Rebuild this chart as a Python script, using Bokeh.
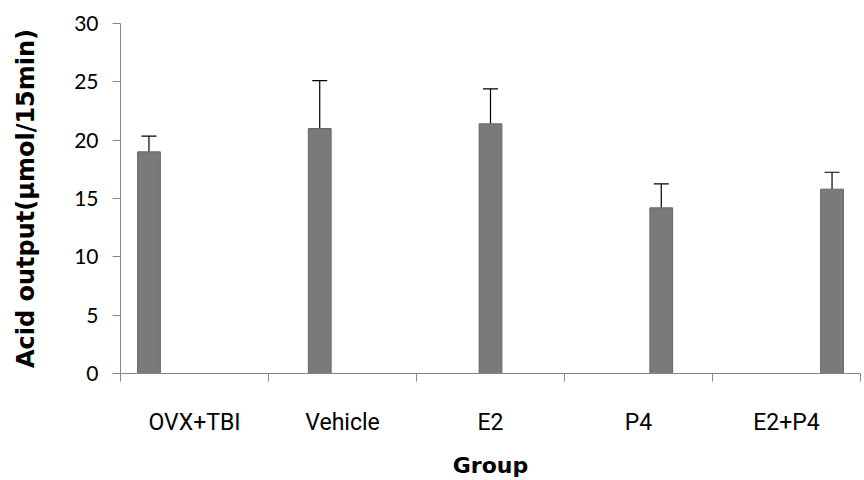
from bokeh.plotting import figure
from bokeh.models import (ColumnDataSource, Range1d, LinearAxis, FixedTicker, Whisker, TeeHead)
from bokeh.embed import file_html
from bokeh.resources import INLINE

groups = ["OVX+TBI", "Vehicle", "E2", "P4", "E2+P4"]
means = [19.0, 21.0, 21.4, 14.2, 15.8]
errors = [1.35, 4.1, 3.0, 2.05, 1.45]
y_ticks = [0, 5, 10, 15, 20, 25, 30]

AXIS_GRAY = "#868686"
BAR_FILL = "#7a7a7a"
BAR_LINE = "#666666"

n = len(groups)
slot = 1.0 / (n + 1.5)          # clustered layout: 5 series slots + gap per category
centers = [i + 0.5 for i in range(n)]
bounds = list(range(n + 1))
xs = [centers[i] + (i - (n - 1) / 2) * slot for i in range(n)]
uppers = [m + e for m, e in zip(means, errors)]

p = figure(x_range=Range1d(0, n), y_range=Range1d(0, 30),
           frame_width=740, frame_height=350,
           min_border_left=120, min_border_right=4, min_border_top=23, min_border_bottom=107,
           output_backend="svg", toolbar_location=None, x_axis_location=None,
           background_fill_color="white", border_fill_color="white")
p.outline_line_color = None
p.xgrid.grid_line_color = None
p.ygrid.grid_line_color = None

# y axis
ya = p.yaxis[0]
ya.ticker = FixedTicker(ticks=y_ticks)
ya.axis_line_color = AXIS_GRAY
ya.major_tick_line_color = AXIS_GRAY
ya.major_tick_out = 8
ya.major_tick_in = 0
ya.minor_tick_line_color = None
ya.major_label_text_font = "Lato"
ya.major_label_text_font_size = "21px"
ya.major_label_text_color = "black"
ya.major_label_standoff = 14
ya.axis_label = "Acid output(µmol/15min)"
ya.axis_label_text_font = "DejaVu Sans"
ya.axis_label_text_font_style = "bold"
ya.axis_label_text_font_size = "24px"
ya.axis_label_text_color = "black"
ya.axis_label_standoff = 31

# x axis: labels at category centres, tick marks at category boundaries
xa = LinearAxis(ticker=FixedTicker(ticks=centers, minor_ticks=bounds),
                major_label_overrides={c: g for c, g in zip(centers, groups)},
                axis_line_color=AXIS_GRAY,
                major_tick_line_color=None, major_tick_out=0, major_tick_in=0,
                minor_tick_line_color=AXIS_GRAY, minor_tick_out=8, minor_tick_in=0,
                major_label_text_font="Roboto",
                major_label_text_font_size="23px",
                major_label_text_color="black",
                major_label_standoff=27,
                axis_label="Group", axis_label_text_font="DejaVu Sans",
                axis_label_text_font_style="bold", axis_label_text_font_size="22px",
                axis_label_text_color="black", axis_label_standoff=14)
p.add_layout(xa, "below")

src = ColumnDataSource(dict(x=xs, value=means, upper=uppers, group=groups))
p.vbar(x="x", top="value", bottom=0, width=slot, source=src,
       fill_color=BAR_FILL, line_color=BAR_LINE, line_width=1)
p.add_layout(Whisker(source=src, base="x", upper="upper", lower="value",
                     line_color="black", line_width=1.2,
                     upper_head=TeeHead(size=15, line_color="black", line_width=1.2),
                     lower_head=None))

open("out.html", "w").write(file_html(p, INLINE))
